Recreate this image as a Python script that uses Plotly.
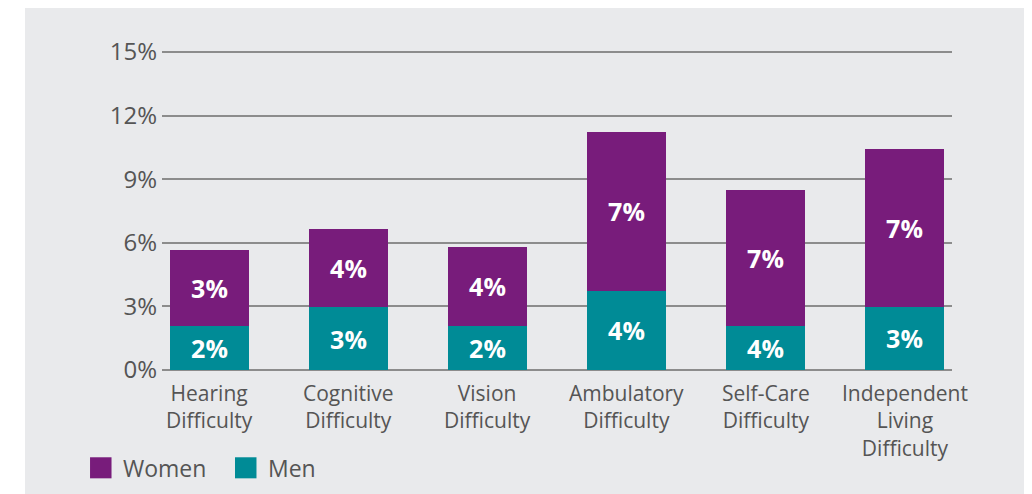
import plotly.graph_objects as go

# data
categories = ['Hearing<br>Difficulty', 'Cognitive<br>Difficulty', 'Vision<br>Difficulty',
              'Ambulatory<br>Difficulty', 'Self-Care<br>Difficulty',
              'Independent<br>Living<br>Difficulty']
men = [2.08, 2.95, 2.08, 3.73, 2.08, 2.98]
women = [3.6, 3.71, 3.73, 7.51, 6.42, 7.46]
men_labels = ['2%', '3%', '2%', '4%', '4%', '3%']
women_labels = ['3%', '4%', '4%', '7%', '7%', '7%']
y_ticks = [0, 3, 6, 9, 12, 15]
y_tick_text = ['0%', '3%', '6%', '9%', '12%', '15%']

TEAL = '#008b96'
PURPLE = '#781c7b'
GRID = '#8c8c8c'
TXT = '#555555'
FONT = 'Open Sans, Lato, sans-serif'

x = list(range(len(categories)))

fig = go.Figure()
fig.add_trace(go.Bar(x=x, y=men, name='Men', marker=dict(color=TEAL, line_width=0),
                     width=0.568, text=men_labels, textposition='inside',
                     insidetextanchor='middle', constraintext='none',
                     textfont=dict(color='white', size=25, family=FONT, weight='bold'),
                     hoverinfo='skip'))
fig.add_trace(go.Bar(x=x, y=women, name='Women', marker=dict(color=PURPLE, line_width=0),
                     width=0.568, text=women_labels, textposition='inside',
                     insidetextanchor='middle', constraintext='none',
                     textfont=dict(color='white', size=25, family=FONT, weight='bold'),
                     hoverinfo='skip'))

# gray panel behind the chart
fig.add_shape(type='rect', xref='paper', yref='paper', x0=-0.1734, x1=1.12,
              y0=-0.42, y1=1.1447, fillcolor='#e9eaec', line_width=0, layer='below')

# category labels under the bars
for i, cat in enumerate(categories):
    fig.add_annotation(x=i, xref='x', yref='paper', y=-0.026, text=cat,
                       showarrow=False, xanchor='center', yanchor='top',
                       borderpad=0, font=dict(size=21, color=TXT, family=FONT))

# manual legend (bigger swatches than plotly's)
legend_items = [('Women', PURPLE, -0.0911), ('Men', TEAL, 0.0924)]
for name, col, lx in legend_items:
    fig.add_shape(type='rect', xref='paper', yref='paper', x0=lx, x1=lx + 0.0272,
                  y0=-0.3396, y1=-0.2736, fillcolor=col, line_width=0)
    fig.add_annotation(xref='paper', yref='paper', x=lx + 0.039, y=-0.3066,
                       text=name, showarrow=False, xanchor='left', yanchor='middle',
                       font=dict(size=23, color=TXT, family=FONT))

fig.update_layout(
    width=1024, height=486,
    barmode='stack',
    showlegend=False,
    paper_bgcolor='white',
    plot_bgcolor='rgba(0,0,0,0)',
    margin=dict(l=154, r=80, t=43, b=124),
    font=dict(family=FONT, color=TXT),
    xaxis=dict(range=[-0.3417, 5.3417], tickvals=x, showticklabels=False,
               showgrid=False, zeroline=False, showline=False),
    yaxis=dict(range=[0, 15.05], tickvals=y_ticks, ticktext=y_tick_text,
               showgrid=True, gridcolor=GRID, gridwidth=1.5,
               zeroline=True, zerolinecolor=GRID, zerolinewidth=1.5,
               showline=False, ticks='', ticklabelstandoff=4,
               tickfont=dict(size=24, color=TXT, family=FONT)),
)

fig.write_html('out.html')
